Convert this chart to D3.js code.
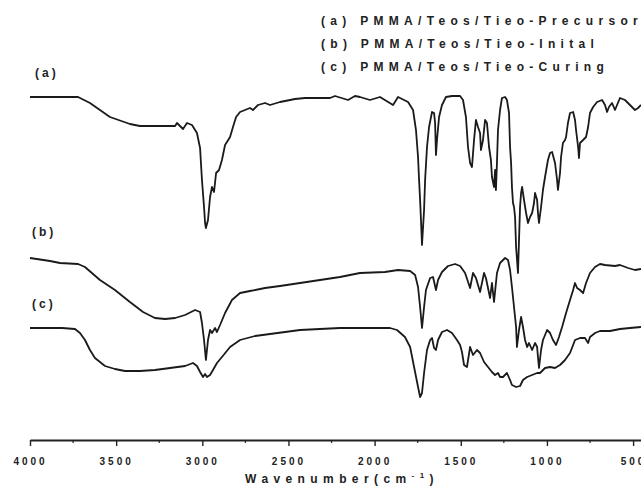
<!DOCTYPE html>
<html>
<head>
<meta charset="utf-8">
<script src="https://cdn.jsdelivr.net/npm/d3@7"></script>
<style>
  html, body { margin: 0; padding: 0; background: #fff; }
  svg { display: block; }
  .lbl { font-family: "Liberation Sans Narrow", "Arial Narrow", "Liberation Sans", Arial, sans-serif; fill: #222; }
</style>
</head>
<body>
<svg id="chart" width="641" height="490"></svg>
<script>
// FTIR spectra of the PMMA/TEOS/TIEO hybrid at three stages.
// Each series: [wavenumber (cm^-1), transmittance (a.u., stacked)]
const seriesA = [
  [4000,343],[3884,343],[3721,343],[3652,337],[3594,330],[3536,323],[3420,316],[3362,314],
  [3187,314],[3158,314],[3147,317],[3112,311],[3089,317],[3060,315],[3031,307],[3013,292],
  [3002,260],[2990,233],[2984,217],[2979,212],[2967,220],[2955,243],[2944,253],[2932,248],
  [2920,267],[2903,270],[2886,280],[2868,295],[2857,298],[2839,303],[2822,313],[2804,323],
  [2781,328],[2752,330],[2723,332],[2706,330],[2677,335],[2636,337],[2607,335],[2549,338],
  [2462,341],[2404,342],[2259,342],[2230,344],[2154,340],[2114,344],[2085,343],[2027,340],
  [1969,343],[1893,335],[1864,343],[1806,338],[1777,330],[1760,310],[1748,283],[1742,260],
  [1736,240],[1731,220],[1725,195],[1713,230],[1707,260],[1696,293],[1684,313],[1667,328],
  [1655,327],[1649,317],[1644,285],[1638,300],[1626,323],[1609,335],[1586,343],[1551,344],
  [1504,344],[1487,340],[1470,323],[1458,293],[1446,277],[1435,273],[1423,300],[1412,320],
  [1400,313],[1388,307],[1383,290],[1371,300],[1359,320],[1348,317],[1336,293],[1325,280],
  [1319,263],[1307,253],[1301,270],[1296,250],[1290,277],[1284,310],[1272,330],[1261,342],
  [1243,343],[1232,340],[1220,327],[1214,293],[1208,277],[1203,253],[1197,237],[1191,233],
  [1185,223],[1179,193],[1168,167],[1162,200],[1156,233],[1150,247],[1144,253],[1133,240],
  [1121,227],[1110,217],[1098,223],[1086,227],[1075,237],[1069,247],[1057,240],[1052,227],
  [1046,217],[1034,233],[1023,250],[1011,263],[994,280],[982,287],[970,288],[953,277],
  [941,260],[936,250],[924,267],[918,283],[907,297],[895,300],[889,303],[878,317],[866,327],
  [848,328],[837,320],[831,310],[819,293],[814,282],[808,297],[790,300],[773,303],[761,313],
  [750,327],[732,333],[709,338],[680,340],[663,335],[651,328],[640,333],[622,337],[605,330],
  [593,335],[576,342],[547,340],[518,335],[489,330],[471,332],[454,335]
];
const seriesB = [
  [4000,182],[3884,179],[3826,177],[3721,176],[3681,173],[3594,160],[3507,150],[3420,138],
  [3344,128],[3275,122],[3216,121],[3158,122],[3100,125],[3042,130],[3013,128],[3002,117],
  [2990,100],[2979,80],[2967,100],[2955,110],[2944,107],[2926,112],[2915,108],[2897,115],
  [2868,127],[2828,140],[2781,147],[2723,149],[2636,152],[2549,154],[2433,157],[2317,160],
  [2201,163],[2085,167],[1940,168],[1864,170],[1794,169],[1765,165],[1748,153],[1736,133],
  [1725,112],[1713,133],[1702,150],[1678,162],[1661,163],[1644,150],[1632,160],[1609,168],
  [1574,174],[1533,176],[1504,174],[1475,167],[1446,152],[1429,167],[1412,162],[1388,148],
  [1365,167],[1354,162],[1330,142],[1319,157],[1307,138],[1290,167],[1272,177],[1243,182],
  [1226,180],[1214,170],[1203,153],[1191,133],[1179,113],[1174,93],[1162,110],[1150,123],
  [1139,113],[1127,100],[1115,93],[1104,97],[1086,90],[1069,97],[1057,93],[1052,83],
  [1046,72],[1034,90],[1023,100],[999,110],[982,107],[965,100],[947,95],[930,103],[912,113],
  [889,127],[866,140],[848,150],[837,157],[825,152],[808,150],[790,147],[773,157],[750,167],
  [721,173],[692,176],[663,175],[605,174],[576,175],[529,172],[489,170],[454,171]
];
const seriesC = [
  [4000,112],[3814,112],[3739,111],[3710,107],[3681,100],[3652,90],[3623,82],[3565,74],
  [3507,71],[3449,69],[3362,69],[3275,70],[3187,72],[3100,74],[3054,77],[3031,74],[3013,68],
  [2996,63],[2984,66],[2973,63],[2955,65],[2938,70],[2915,77],[2886,83],[2839,93],[2781,100],
  [2694,104],[2607,106],[2520,108],[2433,110],[2317,111],[2201,112],[1911,112],[1870,110],
  [1824,103],[1794,93],[1771,73],[1748,53],[1736,43],[1725,47],[1713,67],[1696,90],
  [1678,100],[1667,102],[1655,92],[1644,90],[1632,100],[1609,108],[1580,110],[1551,107],
  [1522,100],[1504,95],[1493,88],[1481,75],[1464,73],[1446,93],[1429,85],[1406,90],
  [1388,87],[1365,78],[1342,73],[1319,68],[1301,65],[1284,67],[1272,63],[1255,63],[1232,67],
  [1214,60],[1203,55],[1179,53],[1156,54],[1139,60],[1115,63],[1086,65],[1057,67],[1040,67],
  [1011,72],[982,73],[953,72],[924,75],[895,80],[866,87],[837,100],[808,102],[779,102],
  [761,97],[750,103],[721,107],[692,109],[634,109],[576,111],[518,112],[454,113]
];

const majorTicks = [4000, 3500, 3000, 2500, 2000, 1500, 1000, 500];
const minorTicks = [3750, 3250, 2750, 2250, 1750, 1250, 750];
const curveLabels = ["(a)", "(b)", "(c)"];
const legendLines = [
  "(a) PMMA/Teos/Tieo-Precursor",
  "(b) PMMA/Teos/Tieo-Inital",
  "(c) PMMA/Teos/Tieo-Curing"
];
const xTitle = "Wavenumber(cm";

const svg = d3.select("#chart");

const x = d3.scaleLinear().domain([4000, 450]).range([30, 641.7]);
const y = d3.scaleLinear().domain([0, 380]).range([440, 60]);

const line = d3.line().x(d => x(d[0])).y(d => y(d[1])).curve(d3.curveLinear);

svg.append("g")
  .selectAll("path")
  .data([seriesA, seriesB, seriesC])
  .join("path")
  .attr("d", line)
  .attr("fill", "none")
  .attr("stroke", "#1a1a1a")
  .attr("stroke-width", 1.8)
  .attr("stroke-linejoin", "round");

// bottom axis
const axisY = y(0);
const gx = svg.append("g").attr("transform", `translate(0,${axisY})`);
gx.call(d3.axisBottom(x).tickValues(majorTicks).tickSize(6).tickSizeOuter(0).tickFormat(d3.format("d")));
gx.select(".domain").attr("stroke", "#222").attr("stroke-width", 1.8);
gx.selectAll(".tick line").attr("stroke", "#222").attr("stroke-width", 1.4);
gx.selectAll(".tick text")
  .attr("class", "lbl")
  .attr("y", 18)
  .attr("dy", "0.71em")
  .style("font-size", "10px")
  .style("font-weight", "bold")
  .style("letter-spacing", "3px");

svg.append("g")
  .selectAll("line")
  .data(minorTicks)
  .join("line")
  .attr("x1", d => x(d)).attr("x2", d => x(d))
  .attr("y1", axisY).attr("y2", axisY + 3)
  .attr("stroke", "#222").attr("stroke-width", 1.2);

// axis title
const title = svg.append("text")
  .attr("class", "lbl")
  .attr("x", 342).attr("y", 483)
  .attr("text-anchor", "middle")
  .style("font-size", "12px")
  .style("font-weight", "bold")
  .style("letter-spacing", "5.4px");
title.append("tspan").text(xTitle);
title.append("tspan").attr("dy", -5).style("font-size", "8px").text("-1");
title.append("tspan").attr("dy", 5).text(")");

// curve tags
const tagPos = [[35, 77], [32, 236], [32, 308]];
svg.append("g")
  .selectAll("text")
  .data(curveLabels)
  .join("text")
  .attr("class", "lbl")
  .attr("x", (d, i) => tagPos[i][0])
  .attr("y", (d, i) => tagPos[i][1])
  .style("font-size", "12px")
  .style("font-weight", "bold")
  .style("letter-spacing", "3px")
  .text(d => d);

// legend
svg.append("g")
  .selectAll("text")
  .data(legendLines)
  .join("text")
  .attr("class", "lbl")
  .attr("x", 321)
  .attr("y", (d, i) => 25 + i * 23)
  .style("font-size", "12px")
  .style("font-weight", "bold")
  .style("letter-spacing", "5.3px")
  .text(d => d);
</script>
</body>
</html>
